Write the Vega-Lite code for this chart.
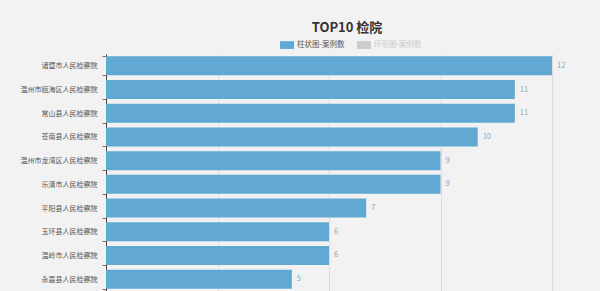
{
  "$schema": "https://vega.github.io/schema/vega-lite/v6.json",
  "autosize": "none",
  "width": 446,
  "height": 237,
  "padding": {"left": 106, "top": 54, "right": 48, "bottom": 0},
  "background": "#f2f2f2",
  "title": {"text": "TOP10 检院", "fontSize": 13, "fontWeight": "bold", "color": "#333", "font": "Noto Sans CJK SC", "anchor": "middle", "dx": 18, "offset": 3},
  "data": {"values": [
    {"name": "诸暨市人民检察院", "count": 12, "series": "柱状图-案例数"},
    {"name": "温州市瓯海区人民检察院", "count": 11, "series": "柱状图-案例数"},
    {"name": "常山县人民检察院", "count": 11, "series": "柱状图-案例数"},
    {"name": "苍南县人民检察院", "count": 10, "series": "柱状图-案例数"},
    {"name": "温州市龙湾区人民检察院", "count": 9, "series": "柱状图-案例数"},
    {"name": "乐清市人民检察院", "count": 9, "series": "柱状图-案例数"},
    {"name": "平阳县人民检察院", "count": 7, "series": "柱状图-案例数"},
    {"name": "玉环县人民检察院", "count": 6, "series": "柱状图-案例数"},
    {"name": "温岭市人民检察院", "count": 6, "series": "柱状图-案例数"},
    {"name": "永嘉县人民检察院", "count": 5, "series": "柱状图-案例数"}
  ]},
  "config": {"view": {"stroke": null}, "font": "Noto Sans CJK SC"},
  "encoding": {
    "y": {"field": "name", "type": "nominal", "sort": null, "title": null,
      "scale": {"paddingInner": 0.2, "paddingOuter": 0.1},
      "axis": {"tickBand": "extent", "labelFontSize": 7, "labelColor": "#555", "labelPadding": 5, "tickColor": "#8a6a5a", "tickSize": 4, "domainColor": "#444", "labelFont": "Noto Sans CJK SC"}},
    "x": {"field": "count", "type": "quantitative", "title": null,
      "scale": {"domain": [0, 12], "nice": false},
      "axis": {"values": [0, 3, 6, 9, 12], "labels": false, "ticks": false, "domain": false, "grid": true, "gridColor": "#dcdcdc", "gridWidth": 1}}
  },
  "layer": [
    {"mark": {"type": "bar"},
     "encoding": {"color": {"field": "series", "type": "nominal",
        "scale": {"domain": ["柱状图-案例数", "环形图-案例数"], "range": ["#61a8d3", "#cccccc"]},
        "legend": {"title": null, "orient": "none", "legendX": 174, "legendY": -16, "direction": "horizontal",
          "symbolType": "M-1,-0.55H1V0.55H-1Z", "symbolSize": 196, "symbolStrokeWidth": 0,
          "labelFontSize": 7.5, "labelColor": "#555", "columnPadding": 12, "labelOffset": 3,
          "labelFont": "Noto Sans CJK SC",
          "encode": {"labels": {"update": {"fill": {"signal": "datum.value === '环形图-案例数' ? '#cccccc' : '#555555'"}}}}}}}},
    {"mark": {"type": "text", "align": "left", "baseline": "middle", "dx": 5, "fontSize": 7.5, "color": "#7fa9c9"},
     "encoding": {"text": {"field": "count", "type": "quantitative"}}}
  ]
}
